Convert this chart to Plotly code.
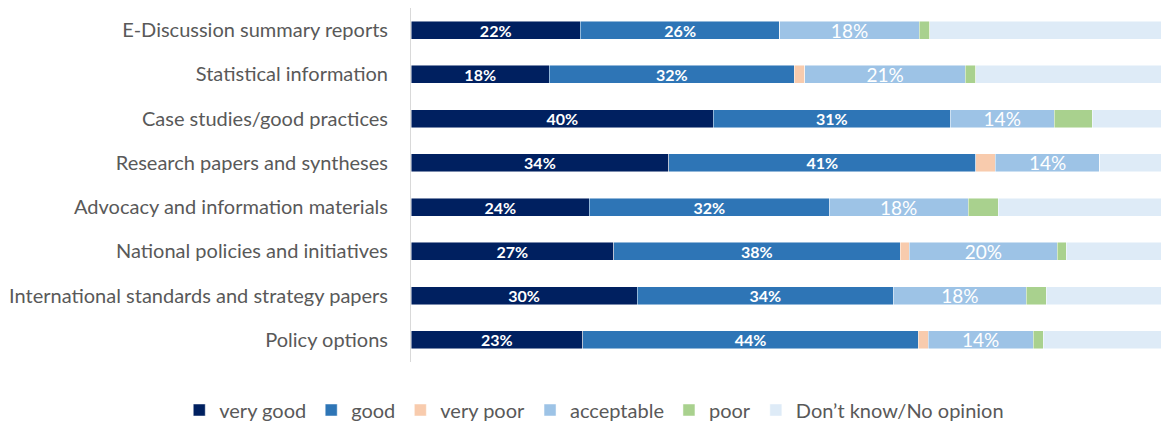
import plotly.graph_objects as go

categories = [
    "E-Discussion summary reports",
    "Statistical information",
    "Case studies/good practices",
    "Research papers and syntheses",
    "Advocacy and information materials",
    "National policies and initiatives",
    "International standards and strategy papers",
    "Policy options",
]

very_good = [22.4, 18.3, 40.0, 34.1, 23.6, 26.8, 29.9, 22.7]
good = [26.4, 32.4, 31.3, 40.6, 31.7, 37.9, 33.9, 44.4]
very_poor = [0.0, 1.4, 0.0, 2.6, 0.0, 1.2, 0.0, 1.3]
acceptable = [18.4, 21.2, 13.8, 13.8, 18.4, 19.6, 17.6, 13.9]
poor = [1.4, 1.4, 5.0, 0.0, 4.0, 1.2, 2.6, 1.3]
dont_know = [31.4, 25.3, 9.9, 8.9, 22.3, 13.3, 16.0, 16.4]

series = [
    ("very good", very_good, "#002060", "bold"),
    ("good", good, "#2E75B6", "bold"),
    ("very poor", very_poor, "#F8CBAD", None),
    ("acceptable", acceptable, "#9DC3E6", "plain"),
    ("poor", poor, "#A9D18E", None),
    ("Don\u2019t know/No opinion", dont_know, "#DEEBF7", None),
]

FONT = "Lato"

fig = go.Figure()
for name, vals, color, lab in series:
    if lab == "bold":
        kw = dict(
            texttemplate="<b>%{x:.0f}%</b>",
            textposition="inside",
            insidetextanchor="middle",
            textangle=0,
            constraintext="none",
            textfont=dict(family=FONT, size=16, color="white"),
        )
    elif lab == "plain":
        kw = dict(
            texttemplate="%{x:.0f}%",
            textposition="inside",
            insidetextanchor="middle",
            textangle=0,
            constraintext="none",
            textfont=dict(family=FONT, size=19, color="white"),
        )
    else:
        kw = dict(textposition="none")
    fig.add_trace(
        go.Bar(
            name=name,
            y=categories,
            x=vals,
            orientation="h",
            marker=dict(color=color, line=dict(color="rgba(255,255,255,0.6)", width=0.8)),
            hoverinfo="skip",
            **kw,
        )
    )

fig.update_layout(
    barmode="stack",
    bargap=0.59,
    width=1161,
    height=423,
    margin=dict(l=411, r=0, t=8, b=61, autoexpand=False),
    paper_bgcolor="white",
    plot_bgcolor="white",
    uniformtext=dict(mode=False),
    font=dict(family=FONT, size=20, color="#595959"),
    showlegend=True,
    legend=dict(
        orientation="h",
        x=-0.309,
        xanchor="left",
        y=-0.1356,
        yanchor="middle",
        traceorder="normal",
        font=dict(family=FONT, size=20, color="#595959"),
        itemwidth=30,
    ),
    xaxis=dict(
        range=[0, 99.2],
        showgrid=False,
        zeroline=False,
        showticklabels=False,
        showline=False,
        fixedrange=True,
    ),
    yaxis=dict(
        autorange="reversed",
        showline=True,
        linecolor="#D9D9D9",
        linewidth=1,
        ticks="outside",
        ticklen=18,
        tickcolor="rgba(0,0,0,0)",
        showgrid=False,
        tickfont=dict(family=FONT, size=20, color="#595959"),
    ),
)

fig.write_html("out.html")
